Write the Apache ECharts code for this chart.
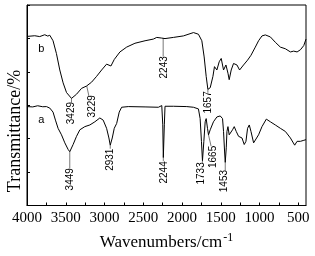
<!DOCTYPE html>
<html><head><meta charset="utf-8">
<script src="https://cdn.jsdelivr.net/npm/echarts@6/dist/echarts.min.js"></script>
<style>html,body{margin:0;padding:0;background:#fff}#c{width:315px;height:256px}</style>
</head><body><div id="c"></div>
<script>
// Curve b (upper)
const wnB = [4000,3900,3836,3771,3732,3706,3664,3620,3577,3534,3490,3426,3361,3296,3232,3167,3102,3037,2973,2952,2917,2874,2801,2714,2607,2477,2370,2326,2261,2219,2111,1982,1852,1788,1744,1714,1688,1666,1636,1601,1581,1550,1520,1494,1464,1433,1407,1391,1365,1335,1291,1257,1206,1154,1110,1054,1012,968,925,860,796,731,666,601,559,515,472,429,400];
const tB  = [101.2,101.6,101.1,102.2,101.4,101.9,98.6,90.9,81.1,73.4,67.6,64.1,66.6,70.1,71.5,73.8,77.3,81.1,84.6,85.5,83.5,87.4,91.9,94.8,97.1,98.6,99.6,100.6,100.2,99.9,100.6,101.5,103.5,102.5,98.6,88.9,77.3,69.5,70.5,77.3,83.1,81.1,86.0,88.0,81.1,84.1,79.2,75.3,81.1,85.0,84.1,81.1,84.1,87.0,89.9,94.8,98.6,101.5,102.1,100.9,97.7,94.8,93.8,91.9,92.4,91.9,93.2,95.7,99.6];
// Curve a (lower)
const wnA = [4000,3926,3862,3797,3749,3706,3664,3633,3599,3555,3512,3470,3448,3405,3361,3318,3254,3189,3124,3060,3017,2973,2943,2926,2900,2874,2843,2810,2779,2693,2477,2305,2261,2248,2241,2228,2219,2111,1938,1852,1788,1766,1749,1736,1718,1701,1688,1671,1658,1636,1614,1594,1550,1507,1477,1464,1451,1442,1429,1420,1407,1391,1369,1348,1326,1300,1270,1226,1197,1175,1154,1132,1110,1076,1054,1012,968,912,860,796,731,666,601,546,515,472,437,400];
const tA  = [59.2,59.0,59.7,59.1,59.2,58.3,55.9,51.1,46.2,42.3,37.5,33.6,32.2,36.5,41.4,45.3,47.2,48.2,50.1,52.4,51.1,46.2,40.4,36.1,40.4,46.2,49.1,55.9,58.8,59.2,59.0,58.8,59.8,48.3,28.7,48.3,59.4,59.4,59.2,58.8,57.8,52.0,38.4,26.8,38.4,50.1,52.0,46.2,42.3,45.3,46.2,50.1,53.0,53.6,52.0,44.3,32.6,25.8,34.5,44.3,47.2,42.3,42.3,45.3,47.2,44.3,41.4,40.4,36.5,38.4,46.2,48.2,44.3,37.5,36.5,42.3,47.2,51.7,50.1,48.2,46.2,44.3,40.4,36.1,38.4,38.4,38.9,39.4];

const xTickValues = [3750,3500,3250,3000,2750,2500,2250,2000,1750,1500,1250,1000,750,500];
const xLabelValues = [4000,3500,3000,2500,2000,1500,1000,500];

// Peak annotations: label text, label centre [wn, T], leader line from/to [wn, T]
const annText  = ['3429','3229','2243','1657','3449','2931','2244','1733','1665','1453'];
const annPos   = [[3435,55.3],[3162,59.4],[2228,82.7],[1662,61.7],[3441,15.7],[2930,27.4],[2231,19.8],[1746,19.2],[1591,29.1],[1449,14.6]];
const annFrom  = [[3426,64.1],[3229,71.5],[2243,100.2],[1666,69.5],[3448,32.2],[2926,36.1],[2241,28.7],[1736,26.8],[1658,42.3],[1442,25.8]];
const annTo    = [[3426,61.5],[3200,65.2],[2243,89.1],[1666,67.5],[3448,22.1],[2926,34.0],[2241,26.5],[1736,25.5],[1625,35.5],[1442,20.7]];
const curveNames = ['a','b'];
const curvePos = [[3814,51.4],[3814,93.8]];

const zip = (xs, ys) => xs.map((x, i) => [x, ys[i]]);
const chart = echarts.init(document.getElementById('c'));
chart.setOption({
  animation: false,
  grid: {left: 27, right: 9, top: 5, bottom: 45, show: true, borderColor: '#000', borderWidth: 1, backgroundColor: 'transparent'},
  xAxis: {
    type: 'value', min: 400, max: 4000, inverse: true,
    axisLine: {lineStyle: {color: '#000', width: 1}},
    axisTick: {inside: true, length: 3, lineStyle: {color: '#000'}, customValues: xTickValues},
    axisLabel: {color: '#000', fontFamily: 'Liberation Serif', fontSize: 15, margin: 5, customValues: xLabelValues, formatter: v => String(v)},
    splitLine: {show: false},
    name: 'Wavenumbers/cm{s|-1}', nameLocation: 'middle', nameGap: 26,
    nameTextStyle: {color: '#000', fontFamily: 'Liberation Serif', fontSize: 17,
      rich: {s: {fontFamily: 'Liberation Serif', fontSize: 12, verticalAlign: 'top', padding: [0,0,10,1]}}}
  },
  yAxis: {
    type: 'value', min: 0, max: 120, interval: 20,
    axisLine: {show: true, lineStyle: {color: '#000', width: 1}},
    axisTick: {show: true, inside: true, length: 3, lineStyle: {color: '#000'}},
    axisLabel: {show: false},
    splitLine: {show: false}
  },
  series: [
    {type: 'line', data: zip(wnA, tA), showSymbol: false, symbol: 'none', lineStyle: {color: '#000', width: 1}},
    {type: 'line', data: zip(wnB, tB), showSymbol: false, symbol: 'none', lineStyle: {color: '#000', width: 1}}
  ]
});

const px = p => chart.convertToPixel({gridIndex: 0}, p);
const g = [];
annText.forEach((t, i) => {
  const a = px(annFrom[i]), b = px(annTo[i]), c = px(annPos[i]);
  g.push({type: 'line', shape: {x1: a[0], y1: a[1], x2: b[0], y2: b[1]}, style: {stroke: '#555', lineWidth: 0.8}, silent: true});
  g.push({type: 'text', x: c[0], y: c[1], rotation: Math.PI / 2,
    style: {text: t, fill: '#000', font: '10px "Liberation Sans"', align: 'center', verticalAlign: 'middle'}});
});
curveNames.forEach((n, i) => {
  const c = px(curvePos[i]);
  g.push({type: 'text', x: c[0], y: c[1], style: {text: n, fill: '#000', font: '11px "Liberation Sans"', align: 'center', verticalAlign: 'middle'}});
});
g.push({type: 'text', x: 15, y: 131, rotation: Math.PI / 2,
  style: {text: 'Transmittance/%', fill: '#000', font: '18px "Liberation Serif"', align: 'center', verticalAlign: 'middle'}});
chart.setOption({graphic: g});
</script></body></html>
